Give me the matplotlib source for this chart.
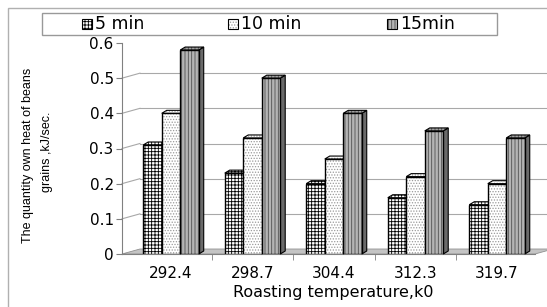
import matplotlib
matplotlib.use('Agg')
import matplotlib.pyplot as plt
from matplotlib.patches import Rectangle, Polygon
import numpy as np

# data
temps = ['292.4', '298.7', '304.4', '312.3', '319.7']
series = ['5 min', '10 min', '15min']
min5 = [0.31, 0.23, 0.20, 0.16, 0.14]
min10 = [0.40, 0.33, 0.27, 0.22, 0.20]
min15 = [0.58, 0.50, 0.40, 0.35, 0.33]
yticks = [0, 0.1, 0.2, 0.3, 0.4, 0.5, 0.6]

W, H = 547, 307
plt.rcParams['font.family'] = 'DejaVu Sans'
plt.rcParams['hatch.linewidth'] = 0.6

fig = plt.figure(figsize=(W / 100, H / 100), dpi=100)


def fx(x):
    return x / W


def fy(y):
    return 1 - y / H


ax = fig.add_axes([fx(122), fy(254), (535 - 122) / W, (254 - 43) / H])
xmin, xmax = -0.601, 4.466
ax.set_xlim(xmin, xmax)
ax.set_ylim(0, 0.6)

# fake 3d depth (data units)
dx, dy = 0.061, 0.0085      # bar depth
wdx, wdy = 0.22, 0.0142     # wall depth
w = 0.227

# back wall grid and floor
for v in yticks[1:-1]:
    ax.plot([xmin, xmin + wdx], [v, v + wdy], color='#a8a8a8', lw=0.8,
            clip_on=False, zorder=0.5)
    ax.plot([xmin + wdx, xmax + 0.5], [v + wdy, v + wdy], color='#a8a8a8',
            lw=0.8, clip_on=False, zorder=0.5)
ax.add_patch(Polygon([(xmin, 0), (xmax, 0), (xmax + wdx, wdy), (xmin + wdx, wdy)],
                     closed=True, facecolor='#c4c4c4', edgecolor='#909090',
                     lw=0.6, clip_on=False, zorder=0.6))

styles = [
    # face, hatch, hatch colour, top, side
    ('white', '+++++', 'black', 'white', '#555555'),
    ('white', '......', '#9a9a9a', 'white', '#888888'),
    ('#b4b4b4', '|||||', '#505050', '#a0a0a0', '#6a6a6a'),
]
x = np.arange(len(temps))
for j, vals in enumerate([min5, min10, min15]):
    face, hatch, hcol, top, side = styles[j]
    z = 2 + j * 3
    bars = ax.bar(x + (j - 1) * w, vals, w, color=face, hatch=hatch,
                  edgecolor=hcol, lw=0, zorder=z + 1)
    ax.bar(x + (j - 1) * w, vals, w, fill=False, edgecolor='black', lw=1,
           zorder=z + 1.5)
    for b in bars:
        x0, bw, h = b.get_x(), b.get_width(), b.get_height()
        ax.add_patch(Polygon([(x0 + bw, 0), (x0 + bw + dx, dy),
                              (x0 + bw + dx, h + dy), (x0 + bw, h)],
                             closed=True, facecolor=side, edgecolor='black',
                             lw=0.8, zorder=z, clip_on=False))
        ax.add_patch(Polygon([(x0, h), (x0 + bw, h), (x0 + bw + dx, h + dy),
                              (x0 + dx, h + dy)], closed=True, facecolor=top,
                             hatch=hatch, edgecolor=hcol, lw=0, zorder=z + 0.2,
                             clip_on=False))
        ax.add_patch(Polygon([(x0, h), (x0 + bw, h), (x0 + bw + dx, h + dy),
                              (x0 + dx, h + dy)], closed=True, fill=False,
                             edgecolor='black', lw=0.8, zorder=z + 0.3,
                             clip_on=False))

for s in ['top', 'right']:
    ax.spines[s].set_visible(False)
ax.spines['left'].set_color('#808080')
ax.spines['bottom'].set_color('#808080')
ax.set_yticks(yticks)
ax.set_yticklabels(['0', '0.1', '0.2', '0.3', '0.4', '0.5', '0.6'])
ax.tick_params(axis='y', colors='#808080', labelcolor='black', length=4,
               pad=2, labelsize=11)
ax.set_xticks(x)
ax.set_xticklabels(temps)
ax.tick_params(axis='x', which='major', length=0, pad=9, labelsize=11)
ax.set_xticks(x[:-1] + 0.5, minor=True)
ax.tick_params(axis='x', which='minor', length=4, colors='#808080')

fig.text(fx(28), fy(155), 'The quantity own heat of beans', rotation=90,
         ha='center', va='center', family='Liberation Sans', size=9)
fig.text(fx(47), fy(152), 'grains ,kJ/sec.', rotation=90,
         ha='center', va='center', family='Liberation Sans', size=9)
fig.text(fx(333), fy(293), 'Roasting temperature,k0', ha='center',
         va='center', size=11.5)

# outer frame
fig.patches.append(Rectangle((fx(8), fy(320)), (570 - 8) / W, (320 - 8) / H,
                             transform=fig.transFigure, fill=False,
                             edgecolor='#b0b0b0', lw=1))
# legend drawn by hand
fig.patches.append(Rectangle((fx(42), fy(35)), (497 - 42) / W, (35 - 13) / H,
                             transform=fig.transFigure, fill=False,
                             edgecolor='#999999', lw=1))
marks = [82, 228, 387]
for j, name in enumerate(series):
    face, hatch, hcol, top, side = styles[j]
    m = Rectangle((fx(marks[j]), fy(29)), 10 / W, 10 / H,
                  transform=fig.transFigure, facecolor=face, hatch=hatch,
                  edgecolor=hcol, lw=0)
    fig.patches.append(m)
    fig.patches.append(Rectangle((fx(marks[j]), fy(29)), 10 / W, 10 / H,
                                 transform=fig.transFigure, fill=False,
                                 edgecolor='black', lw=0.8))
    fig.text(fx(marks[j] + 13), fy(24), name, ha='left', va='center',
             size=12.5)

fig.savefig('out.png', dpi=100)
